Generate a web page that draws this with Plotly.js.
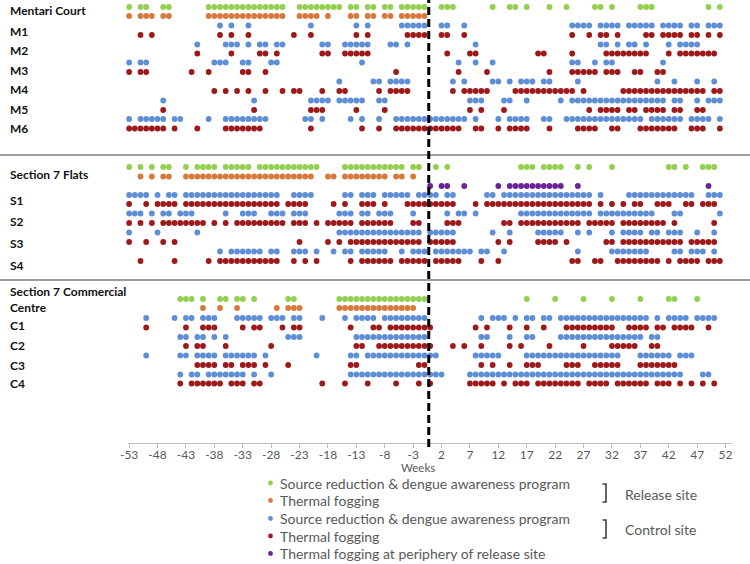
<!DOCTYPE html>
<html>
<head>
<meta charset="utf-8">
<script src="https://cdn.plot.ly/plotly-3.0.1.min.js"></script>
<style>html,body{margin:0;padding:0;background:#fff}</style>
</head>
<body>
<div id="chart" style="width:750px;height:564px"></div>
<script>
// weeks (relative to release) on which each activity took place
const weekTicks = [-53,-48,-43,-38,-33,-28,-23,-18,-13,-8,-3,2,7,12,17,22,27,32,37,42,47,52];

// Mentari Court
const mcRelSR = [-53,-51,-50,-47,-46,-39,-38,-37,-36,-35,-34,-33,-32,-31,-30,-29,-28,-27,-26,-23,-22,-21,-20,-19,-18,-17,-16,-14,-13,-11,-10,-8,-7,-5,-4,-3,-2,-1,2,3,4,11,14,15,17,21,24,29,30,32,37,38,39,49,51];
const mcRelFog = [-53,-51,-50,-49,-47,-46,-39,-38,-37,-36,-35,-34,-33,-32,-31,-30,-29,-28,-27,-26,-23,-22,-21,-20,-18,-14,-13,-11,-10,-8,-7,-5,-4,-3,-2,-1];
const m1SR = [-37,-35,-32,-21,-13,-11,-5,-4,-3,-2,-1,2,3,6,25,26,27,28,30,31,32,33,35,36,37,38,39,41,42,43,44,46,47,49,50,51];
const m1Fog = [-51,-49,-37,-35,-32,-24,-21,-13,-11,-4,-3,-2,-1,2,3,6,25,28,30,31,33,38,39,41,42,43,44,46,47,49,51];
const m2SR = [-41,-36,-35,-34,-32,-30,-29,-27,-26,-19,-18,-15,-14,-13,-12,-11,-7,-6,-4,8,30,31,33,35,36,38,42,44,45,46,47];
const m2Fog = [-41,-35,-30,-29,-27,-19,-18,-15,-14,-13,-12,-11,3,7,8,19,20,25,31,32,33,34,35,36,37,38,42,44,45,46,47,48,49,50];
const m3SR = [-53,-51,-50,-38,-37,-36,-33,-32,-28,-27,-12,5,8,11,25,26,29,31,32,41];
const m3Fog = [-53,-51,-50,-42,-39,-33,-32,-29,-6,5,10,21,25,26,27,28,29,31,32,33,36,37,40,41];
const m4SR = [-16,-10,-9,-7,-6,-5,-4,4,6,11,12,14,16,17,18,20,21,26,40,43,47,50];
const m4Fog = [-38,-36,-34,-32,-29,-26,-24,-23,-19,-16,-15,-9,-7,-6,-5,-4,4,6,7,8,9,10,15,16,17,18,19,20,21,22,23,24,25,27,34,35,36,37,38,39,40,41,42,43,44,45,46,47,48,50,51];
const m5SR = [-47,-31,-21,-20,-19,-18,-16,-15,-14,-13,-12,-9,-8,7,8,9,13,14,17,23,25,26,27,28,29,30,31,32,33,34,35,36,37,38,39,40,41,43,44,47,49,50,51];
const m5Fog = [-47,-31,-21,-20,-19,-13,-8,7,9,13,28,30,31,32,33,35,36,38,39,40,41,43,44,47,48];
const m6SR = [-53,-51,-50,-49,-48,-47,-45,-44,-39,-36,-35,-34,-33,-32,-31,-30,-29,-22,-21,-19,-14,-12,-9,-6,-5,-4,-3,-2,-1,0,1,2,3,4,5,6,8,12,14,15,16,17,20,21,24,25,26,27,28,29,30,31,32,33,34,35,36,37,39,40,41,42,43,44,46,47,48,49,51];
const m6Fog = [-53,-52,-51,-50,-49,-48,-47,-45,-41,-36,-35,-34,-33,-32,-31,-30,-21,-12,-9,-6,-5,-4,-3,-2,-1,0,1,2,3,4,5,8,9,12,14,15,16,17,21,26,27,28,29,32,33,37,38,39,40,41,42,43,46,47,48,51];

// Section 7 Flats
const sfRelSR = [-53,-51,-49,-47,-46,-43,-41,-40,-39,-38,-36,-35,-34,-33,-32,-30,-29,-28,-27,-26,-25,-24,-23,-22,-21,-20,-15,-14,-13,-12,-11,-10,-9,-8,-7,-6,-5,-3,-2,1,3,16,17,18,20,21,22,23,26,28,32,42,43,45,48,49,50];
const sfRelFog = [-51,-49,-47,-46,-43,-42,-41,-40,-39,-38,-37,-36,-35,-34,-33,-32,-31,-30,-29,-28,-27,-26,-25,-24,-23,-22,-21,-18,-17,-15,-14,-13,-12,-11,-10,-9,-8,-6,-5,-3];
const sfPeriFog = [0,2,3,6,12,14,15,16,17,18,19,20,21,22,23,26,49];
const s1SR = [-53,-52,-51,-50,-48,-46,-45,-43,-42,-41,-40,-39,-38,-37,-36,-35,-34,-33,-32,-31,-30,-29,-28,-27,-24,-23,-22,-21,-15,-14,-12,-11,-10,-8,-7,-6,-5,-4,-2,-1,0,1,3,4,10,11,13,14,15,16,17,18,19,20,21,22,23,24,25,26,27,28,30,35,36,37,38,39,40,41,42,43,44,45,46,49,50,51];
const s1Fog = [-53,-50,-48,-47,-46,-45,-43,-42,-41,-40,-39,-38,-37,-36,-35,-34,-33,-32,-31,-30,-29,-28,-27,-25,-24,-23,-22,-17,-15,-12,-11,-10,-8,-4,-3,-2,-1,0,1,2,3,4,8,10,11,12,13,14,15,16,17,18,19,20,21,22,23,24,25,26,27,28,30,32,34,36,37,40,41,42,45,46,48,49,50];
const s2SR = [-53,-52,-51,-49,-47,-46,-44,-43,-42,-36,-33,-32,-31,-28,-27,-26,-24,-23,-22,-16,-15,-14,-12,-11,-9,-8,-7,-3,3,5,6,8,16,17,18,19,20,21,22,23,24,25,26,27,28,30,31,32,33,34,35,36,37,38,39,43,44,51];
const s2Fog = [-53,-51,-49,-47,-46,-45,-44,-43,-42,-41,-40,-38,-36,-34,-33,-32,-31,-30,-29,-28,-27,-26,-24,-23,-22,-20,-18,-17,-16,-15,-14,-12,-11,-10,-9,-8,-7,-3,-2,3,4,5,13,14,16,17,18,19,20,21,22,23,24,25,26,28,29,30,31,32,34,35,36,37,38,39,40,41,43,50];
const s3SR = [-53,-48,-41,-16,-15,-14,-13,-12,-11,-10,-9,-8,-7,-6,-5,-4,-3,-2,0,1,2,3,4,11,14,19,20,21,22,23,26,28,32,34,35,36,37,39,40,42,43,44,47,50];
const s3Fog = [-53,-50,-47,-45,-23,-18,-16,-14,-13,-12,-11,-10,-9,-8,-7,-6,-5,-4,-3,-2,0,1,2,3,4,12,14,19,20,21,22,24,31,32,34,35,36,37,38,39,40,41,42,43,44,46,47,48,49,50];
const s4SR = [-37,-35,-34,-33,-32,-31,-30,-28,-27,-24,-23,-22,-20,-17,-15,-14,-12,-11,-10,-9,-8,-5,-3,-2,-1,1,2,3,4,5,6,7,9,10,13,26,32,33,34,35,36,37,38,43,44,46,47,48,50];
const s4Fog = [-51,-45,-39,-37,-36,-35,-34,-33,-32,-31,-30,-29,-28,-27,-24,-22,-20,-14,-12,-11,-10,-9,-8,-7,-5,-4,-3,-2,-1,1,2,3,4,5,9,12,25,26,29,30,33,34,35,36,37,38,39,40,42,44,45,46,47,49,50,51];

// Section 7 Commercial Centre
const ccRelSR = [-44,-43,-42,-40,-37,-36,-34,-33,-31,-25,-24,-16,-15,-14,-13,-12,-11,-10,-9,-8,-7,-6,-5,-4,-3,-2,-1,17,22,27,32,37,42,43,47];
const ccRelFog = [-40,-37,-34,-27,-25,-24,-23,-16,-15,-14,-13,-12,-11,-10,-9,-8,-7,-6,-5,-4,-3];
const c1SR = [-50,-45,-43,-42,-40,-39,-38,-34,-33,-32,-31,-30,-28,-27,-26,-24,-23,-19,-15,-13,-12,-11,-10,-8,-7,-6,-5,-4,-3,-2,-1,9,11,12,13,15,17,18,20,21,23,24,25,26,27,28,29,30,31,32,33,34,35,36,37,38,40,42,43,44,45,47,48,49,50];
const c1Fog = [-50,-43,-40,-39,-38,-33,-31,-30,-26,-24,-23,-14,-10,-9,-7,-6,-5,-4,-3,-2,-1,0,8,10,14,17,20,24,25,26,27,28,29,30,31,32,35,36,37,38,40,41,43,44,45,46,49];
const c2SR = [-44,-43,-41,-40,-38,-36,-25,-24,-23,-13,-12,-11,-10,-9,-8,-7,-6,-5,-4,-3,-2,-1,9,10,14,17,18,23,24,25,26,27,28,29,30,31,32,33,34,35,36,37,39,40];
const c2Fog = [-43,-41,-40,-36,-28,-13,-12,-9,-8,-7,-6,-5,-4,-3,-2,-1,0,4,6,9,14,16,21,27,32,33,34,35,36,39,40];
const c3SR = [-50,-44,-43,-41,-40,-39,-38,-36,-35,-34,-33,-32,-31,-29,-20,-14,-13,-11,-10,-9,-8,-7,-6,-5,-4,-3,-2,-1,0,1,8,9,10,11,12,17,18,19,20,21,22,23,24,25,26,27,28,29,30,31,32,33,37,38,39,40,41,42,44,45,46];
const c3Fog = [-41,-40,-39,-38,-36,-35,-33,-32,-31,-29,-25,-14,-13,-2,-1,9,11,14,17,18,19,24,25,26,29,30,31,32,33,37,38,39,40,41,42,43];
const c4SR = [-44,-42,-41,-39,-38,-37,-36,-35,-34,-33,-31,-28,-14,-13,-12,-11,-10,-9,-8,-7,-6,-5,-4,-3,-2,-1,0,1,2,7,8,9,10,11,12,13,14,15,16,17,18,19,20,21,22,23,24,25,26,27,28,29,30,31,32,33,34,35,36,37,38,39,40,41,42,43,44,48,49];
const c4Fog = [-44,-42,-41,-40,-39,-38,-37,-35,-34,-33,-31,-30,-19,-15,-11,-6,-2,0,7,8,9,10,11,13,15,16,17,19,20,21,22,23,24,25,26,28,29,30,31,33,34,35,36,37,38,40,41,42,44,46,48,50];

// row layout: y is measured downward from the top of the plot
const rows = [
  [mcRelSR, 'relSR', 7], [mcRelFog, 'relFog', 16],
  [m1SR, 'ctlSR', 25.5], [m1Fog, 'ctlFog', 35],
  [m2SR, 'ctlSR', 44.5], [m2Fog, 'ctlFog', 53.5],
  [m3SR, 'ctlSR', 62.5], [m3Fog, 'ctlFog', 72],
  [m4SR, 'ctlSR', 81.5], [m4Fog, 'ctlFog', 91],
  [m5SR, 'ctlSR', 100.5], [m5Fog, 'ctlFog', 110],
  [m6SR, 'ctlSR', 119], [m6Fog, 'ctlFog', 128.5],
  [sfRelSR, 'relSR', 167], [sfRelFog, 'relFog', 176.5], [sfPeriFog, 'peri', 186],
  [s1SR, 'ctlSR', 195], [s1Fog, 'ctlFog', 204],
  [s2SR, 'ctlSR', 213.5], [s2Fog, 'ctlFog', 223],
  [s3SR, 'ctlSR', 232.5], [s3Fog, 'ctlFog', 242],
  [s4SR, 'ctlSR', 251.5], [s4Fog, 'ctlFog', 261],
  [ccRelSR, 'relSR', 299], [ccRelFog, 'relFog', 308],
  [c1SR, 'ctlSR', 318], [c1Fog, 'ctlFog', 327.5],
  [c2SR, 'ctlSR', 337], [c2Fog, 'ctlFog', 346],
  [c3SR, 'ctlSR', 355.5], [c3Fog, 'ctlFog', 365],
  [c4SR, 'ctlSR', 374.5], [c4Fog, 'ctlFog', 383.5]
];

const kinds = {
  relSR:  {name: 'Source reduction & dengue awareness program', color: '#92D050'},
  relFog: {name: 'Thermal fogging', color: '#D7793A'},
  ctlSR:  {name: 'Source reduction & dengue awareness program', color: '#5E8FD6'},
  ctlFog: {name: 'Thermal fogging', color: '#9E1A1A'},
  peri:   {name: 'Thermal fogging at periphery of release site', color: '#6A2399'}
};
const order = ['relSR', 'relFog', 'ctlSR', 'ctlFog', 'peri'];

const traces = order.map(k => {
  const xs = [], ys = [];
  rows.forEach(r => {
    if (r[1] !== k) return;
    r[0].forEach(w => { xs.push(w); ys.push(r[2]); });
  });
  return {
    x: xs, y: ys, type: 'scatter', mode: 'markers', name: kinds[k].name,
    marker: {color: kinds[k].color, size: 5.8}, cliponaxis: false, showlegend: false,
    hoverinfo: 'x'
  };
});

// plot geometry in pixels
const L = 128, R = 18, T = 0, B = 121, W = 750 - L - R, H = 564 - T - B;
const xmin = -53.2, xmax = xmin + W / 5.68;
const px = v => (v - L) / W;           // page x -> paper
const py = v => (H - v) / H;           // page y -> paper
const wx = w => (w - xmin) / (xmax - xmin);

const font = 'Lato, "Open Sans", sans-serif';
const annotations = [];
const shapes = [];

// site and row labels
const labels = [
  ['Mentari Court', 10], ['M1', 31], ['M2', 50], ['M3', 70], ['M4', 89], ['M5', 109], ['M6', 128],
  ['Section 7 Flats', 174], ['S1', 200], ['S2', 221.5], ['S3', 243], ['S4', 265.5],
  ['Section 7 Commercial', 291], ['Centre', 307.5], ['C1', 325.5], ['C2', 345.5], ['C3', 365], ['C4', 383.5]
];
labels.forEach(l => annotations.push({
  text: '<b>' + l[0] + '</b>', xref: 'paper', yref: 'y', x: px(8), y: l[1],
  xanchor: 'left', yanchor: 'middle', showarrow: false,
  font: {family: font, size: 12, color: '#111111'}
}));

annotations.push({
  text: 'Weeks', xref: 'paper', yref: 'paper', x: px(418), y: py(467),
  xanchor: 'center', yanchor: 'middle', showarrow: false,
  font: {family: font, size: 11.5, color: '#595959'}
});

// legend
const legY = [483, 500.5, 518.5, 536, 553.5];
order.forEach((k, i) => {
  const r = 2.4;
  shapes.push({type: 'circle', xref: 'paper', yref: 'paper',
    x0: px(270.5 - r), x1: px(270.5 + r), y0: py(legY[i] + r), y1: py(legY[i] - r),
    fillcolor: kinds[k].color, line: {width: 0}});
  annotations.push({
    text: kinds[k].name, xref: 'paper', yref: 'paper', x: px(278), y: py(legY[i]),
    xanchor: 'left', yanchor: 'middle', showarrow: false,
    font: {family: font, size: 14, color: '#595959'}
  });
});
[[484, 502, 'Release site', 494], [520, 538, 'Control site', 529]].forEach(b => {
  shapes.push({type: 'path', xref: 'paper', yref: 'paper',
    path: 'M' + px(602.5) + ',' + py(b[0]) + ' L' + px(606) + ',' + py(b[0]) +
          ' L' + px(606) + ',' + py(b[1]) + ' L' + px(602.5) + ',' + py(b[1]),
    line: {color: '#404040', width: 1.6}});
  annotations.push({
    text: b[2], xref: 'paper', yref: 'paper', x: px(623), y: py(b[3]),
    xanchor: 'left', yanchor: 'middle', showarrow: false,
    font: {family: font, size: 14, color: '#595959'}
  });
});

// section dividers
[155, 280].forEach(y => shapes.push({type: 'line', xref: 'paper', yref: 'paper',
  x0: px(0), x1: px(750), y0: py(y), y1: py(y), line: {color: '#7f7f7f', width: 1.5}}));

// release week marker
shapes.push({type: 'line', xref: 'paper', yref: 'paper',
  x0: wx(-0.25), x1: wx(-0.25), y0: py(447), y1: py(0),
  line: {color: '#000000', width: 3, dash: '8px,4px'}});

Plotly.newPlot('chart', traces, {
  width: 750, height: 564,
  margin: {l: L, r: R, t: T, b: B},
  paper_bgcolor: '#ffffff', plot_bgcolor: '#ffffff',
  showlegend: false,
  xaxis: {
    range: [xmin, xmax], tickmode: 'array', tickvals: weekTicks,
    ticktext: weekTicks.map(String),
    ticks: 'outside', ticklen: 4, tickcolor: '#bfbfbf', tickwidth: 1,
    ticklabelstandoff: -3,
    showline: true, linecolor: '#bfbfbf', linewidth: 1,
    showgrid: false, zeroline: false,
    tickfont: {family: font, size: 12, color: '#595959'}
  },
  yaxis: {range: [H, 0], visible: false, fixedrange: true},
  annotations: annotations,
  shapes: shapes
}, {displayModeBar: false, staticPlot: true});
</script>
</body>
</html>
